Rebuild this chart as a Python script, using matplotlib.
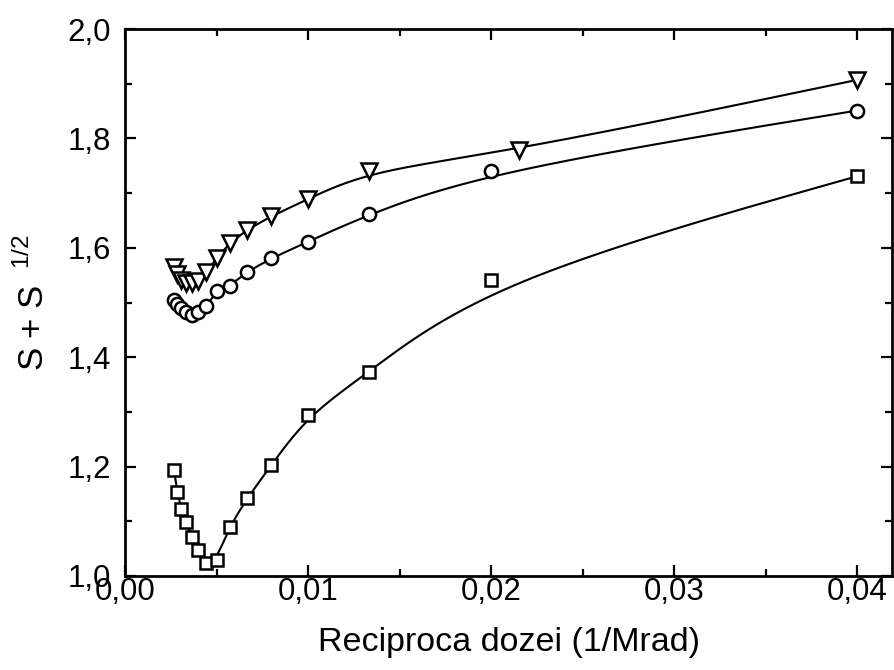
import numpy as np
import matplotlib
matplotlib.use("Agg")
import matplotlib.pyplot as plt

plt.rcParams['font.family'] = ['Liberation Sans', 'DejaVu Sans']
plt.rcParams['mathtext.fontset'] = 'custom'
plt.rcParams['mathtext.rm'] = 'Liberation Sans'

# Reciprocal dose (1/Mrad)
x = [0.00267, 0.00286, 0.00308, 0.00333, 0.00364, 0.00400, 0.00444, 0.00500,
     0.00571, 0.00667, 0.00800, 0.01000, 0.01333, 0.02000, 0.04000]
x_tri = [0.00267, 0.00286, 0.00308, 0.00333, 0.00364, 0.00400, 0.00444, 0.00500,
         0.00571, 0.00667, 0.00800, 0.01000, 0.01333, 0.02150, 0.04000]

# S + S^(1/2) for the three sample series
y_square = [1.194, 1.154, 1.122, 1.099, 1.072, 1.048, 1.024, 1.030,
            1.090, 1.142, 1.203, 1.294, 1.373, 1.541, 1.731]
y_circle = [1.505, 1.498, 1.490, 1.483, 1.477, 1.482, 1.493, 1.521,
            1.530, 1.556, 1.581, 1.611, 1.662, 1.741, 1.851]
y_triangle = [1.565, 1.552, 1.541, 1.535, 1.535, 1.540, 1.556, 1.581,
              1.608, 1.633, 1.658, 1.689, 1.741, 1.778, 1.907]

x_ticks = [0.00, 0.01, 0.02, 0.03, 0.04]
x_ticklabels = ['0,00', '0,01', '0,02', '0,03', '0,04']
y_ticks = [1.0, 1.2, 1.4, 1.6, 1.8, 2.0]
y_ticklabels = ['1,0', '1,2', '1,4', '1,6', '1,8', '2,0']


def bspline(xs, ys, n=40):
    """Clamped uniform cubic B-spline using the data points as control points."""
    P = np.column_stack([xs, ys])
    Q = np.vstack([P[:1], P[:1], P, P[-1:], P[-1:]])
    t = np.linspace(0, 1, n)
    B = np.column_stack([(1 - t) ** 3,
                         3 * t ** 3 - 6 * t ** 2 + 4,
                         -3 * t ** 3 + 3 * t ** 2 + 3 * t + 1,
                         t ** 3]) / 6.0
    segs = [B @ Q[i:i + 4] for i in range(len(Q) - 3)]
    C = np.vstack(segs)
    return C[:, 0], C[:, 1]


fig = plt.figure(figsize=(8.94, 6.70), dpi=100)
ax = fig.add_axes([0.1398, 0.1403, 0.8580, 0.8164])

mk = dict(color='black', mfc='white', mec='black', mew=1.8, ls='none', zorder=3)
for xs, ys, m, ms in [(x, y_square, 's', 9.2), (x, y_circle, 'o', 9.5),
                      (x_tri, y_triangle, 'v', 11.5)]:
    cx, cy = bspline(xs, ys)
    ax.plot(cx, cy, color='black', lw=1.5, zorder=2)
    ax.plot(xs, ys, marker=m, ms=ms, **mk)

ax.set_xlim(0, 0.0419)
ax.set_ylim(1.0, 2.0)
ax.set_xticks(x_ticks)
ax.set_xticklabels(x_ticklabels)
ax.set_yticks(y_ticks)
ax.set_yticklabels(y_ticklabels)
ax.set_xticks(np.arange(0.005, 0.041, 0.01), minor=True)
ax.set_yticks(np.arange(1.1, 2.0, 0.2), minor=True)

ax.tick_params(which='both', direction='in', top=True, right=True, width=1.6)
ax.tick_params(which='major', length=8, labelsize=22.5)
ax.tick_params(which='minor', length=5)
ax.tick_params(axis='x', pad=1)
ax.tick_params(axis='y', pad=10)
for s in ax.spines.values():
    s.set_linewidth(2.0)

ax.set_xlabel('Reciproca dozei (1/Mrad)', fontsize=24.5, labelpad=14)
ax.set_ylabel(r'S + S$^{\ \ 1/2}$', fontsize=25, labelpad=12)

fig.savefig('out.png', dpi=100)
